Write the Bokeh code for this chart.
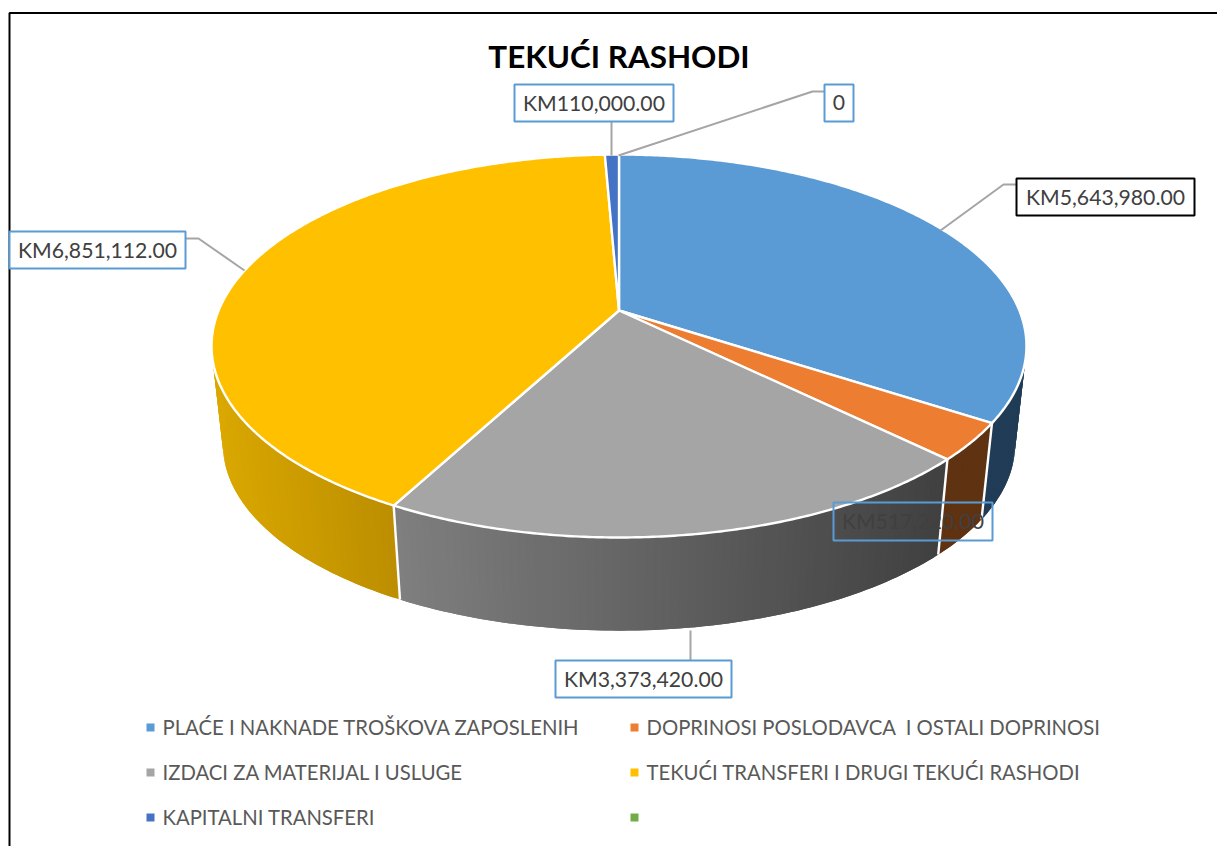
import math
from bokeh.plotting import figure
from bokeh.models import Range1d
from bokeh.embed import file_html
from bokeh.resources import INLINE
from bokeh.core.properties import value

title = "TEKUĆI RASHODI"
categories = ["PLAĆE I NAKNADE TROŠKOVA ZAPOSLENIH", "DOPRINOSI POSLODAVCA \u00a0I OSTALI DOPRINOSI",
              "IZDACI ZA MATERIJAL I USLUGE", "TEKUĆI TRANSFERI I DRUGI TEKUĆI RASHODI",
              "KAPITALNI TRANSFERI", ""]
amounts = [5643980, 517220, 3373420, 6851112, 110000, 0]
colors = ["#5B9BD5", "#ED7D31", "#A5A5A5", "#FFC000", "#4472C4", "#70AD47"]
wall_left = ["#203C56", "#5F3212", "#7F7F7F", "#DAA800", "#2A4578", "#436A2B"]
wall_right = ["#203C56", "#5F3212", "#404040", "#BC8E00", "#2A4578", "#436A2B"]

W, H = 1217, 846
CX, CY = 618.5, 310.0
PD, PA, PC = 400.4, 184.9, -0.1854   # perspective of the pie's top face
BOTTOM_SCALE, BOTTOM_DROP = 0.972, 99.5


def rim(theta, bottom=False):
    x, u = math.sin(theta), -math.cos(theta)
    k = 1 + PC * u
    dx, dy = PD * x / k, PA * u / k
    if bottom:
        return CX + BOTTOM_SCALE * dx, CY + BOTTOM_SCALE * dy + BOTTOM_DROP
    return CX + dx, CY + dy


def mix(a, b, t):
    t = max(0.0, min(1.0, t))
    ca = [int(a[i:i + 2], 16) for i in (1, 3, 5)]
    cb = [int(b[i:i + 2], 16) for i in (1, 3, 5)]
    return "#%02x%02x%02x" % tuple(round(p + (q - p) * t) for p, q in zip(ca, cb))


p = figure(width=W, height=H, x_range=Range1d(0, W), y_range=Range1d(H, 0),
           x_axis_type=None, y_axis_type=None, toolbar_location=None, output_backend="svg",
           min_border=0, outline_line_color=None, background_fill_color="white",
           border_fill_color="white")
p.grid.visible = False

total = sum(amounts)
bounds = [0.0]
for v in amounts:
    bounds.append(bounds[-1] + v / total * 2 * math.pi)

# walls: overlapping strips so that no seams show
for i, v in enumerate(amounts):
    if v <= 0:
        continue
    a0, a1 = bounds[i], bounds[i + 1]
    lo, hi = max(a0, math.radians(70)), min(a1, math.radians(290))
    if hi <= lo:
        continue
    n = max(2, int((hi - lo) / math.radians(1.0)))
    th = [lo + (hi - lo) * k / n for k in range(n + 1)]
    xs, ys, cs = [], [], []
    xvals = [rim(t)[0] for t in th]
    x0, x1 = min(xvals), max(xvals)
    for k in range(n):
        t0, t1 = th[k], th[min(k + 2, n)]
        mid = th[k + 1]
        pts = [rim(t0), rim(mid), rim(t1), rim(t1, True), rim(mid, True), rim(t0, True)]
        xs.append([q[0] for q in pts])
        ys.append([q[1] for q in pts])
        cs.append(mix(wall_left[i], wall_right[i], (0.5 * (xvals[k] + xvals[k + 1]) - x0) / max(x1 - x0, 1)))
    p.patches(xs, ys, fill_color=cs, line_color=None)

# white joints between the walls
for i in range(1, 4):
    t = bounds[i]
    a, b = rim(t), rim(t, True)
    p.line([a[0], b[0]], [a[1], b[1]], line_color="white", line_width=2.4)

# top face
for i, v in enumerate(amounts):
    if v <= 0:
        continue
    a0, a1 = bounds[i], bounds[i + 1]
    n = max(3, int((a1 - a0) / math.radians(0.5)))
    pts = [rim(a0 + (a1 - a0) * k / n) for k in range(n + 1)]
    p.patch([CX] + [q[0] for q in pts], [CY] + [q[1] for q in pts],
            fill_color=colors[i], line_color="white", line_width=2.4, line_join="round")

# outer frame of the picture
p.line([9, 9, W], [H, 12.5, 12.5], line_color="black", line_width=2)

# data labels: leader, box, text
label_texts = [f"KM{v:,.2f}" if v else "0" for v in amounts]
leaders = [([940, 1003, 1016], [230, 184, 184]),
           ([611, 611], [155, 121]),
           ([690, 690], [630, 660]),
           ([244, 198, 185], [270, 238, 238]),
           ([618, 812, 824], [155, 91, 91])]
boxes = [(0, 1016, 1194, 178, 215, "#000000"),
         (1, 833, 992, 502, 540, "#5B9BD5"),
         (2, 555, 731, 660, 697, "#5B9BD5"),
         (3, 9, 185, 231, 268, "#5B9BD5"),
         (4, 514, 673, 84, 121, "#5B9BD5"),
         (5, 824, 853, 84, 121, "#5B9BD5")]
for lx, ly in leaders:
    p.line(lx, ly, line_color="#A5A5A5", line_width=2)
for idx, x0, x1, y0, y1, col in boxes:
    fill = None if idx == 1 else "white"
    p.quad(left=[x0], right=[x1], top=[y0], bottom=[y1], fill_color=fill,
           fill_alpha=0 if idx == 1 else 1, line_color=col, line_width=2)
    p.text([(x0 + x1) / 2], [(y0 + y1) / 2 - 0.5], text=[label_texts[idx]], text_align="center",
           text_baseline="middle", text_color="#404040", text_font=value("Lato"),
           text_font_size="21.2px")

# title
p.text([618.5], [55], text=[title], text_align="center", text_baseline="middle",
       text_color="black", text_font=value("Lato"), text_font_style="bold", text_font_size="31.4px")

# legend
leg_x = [150, 634, 150, 634, 150, 634]
leg_y = [727, 727, 772, 772, 817, 817]
for j in range(len(categories)):
    p.rect([leg_x[j]], [leg_y[j]], width=8, height=8, fill_color=colors[j], line_color=None)
    if categories[j]:
        p.text([leg_x[j] + 12], [leg_y[j] - 1], text=[categories[j]], text_align="left",
               text_baseline="middle", text_color="#595959", text_font=value("Lato"),
               text_font_size="20.3px")

open("out.html", "w").write(file_html(p, INLINE))
